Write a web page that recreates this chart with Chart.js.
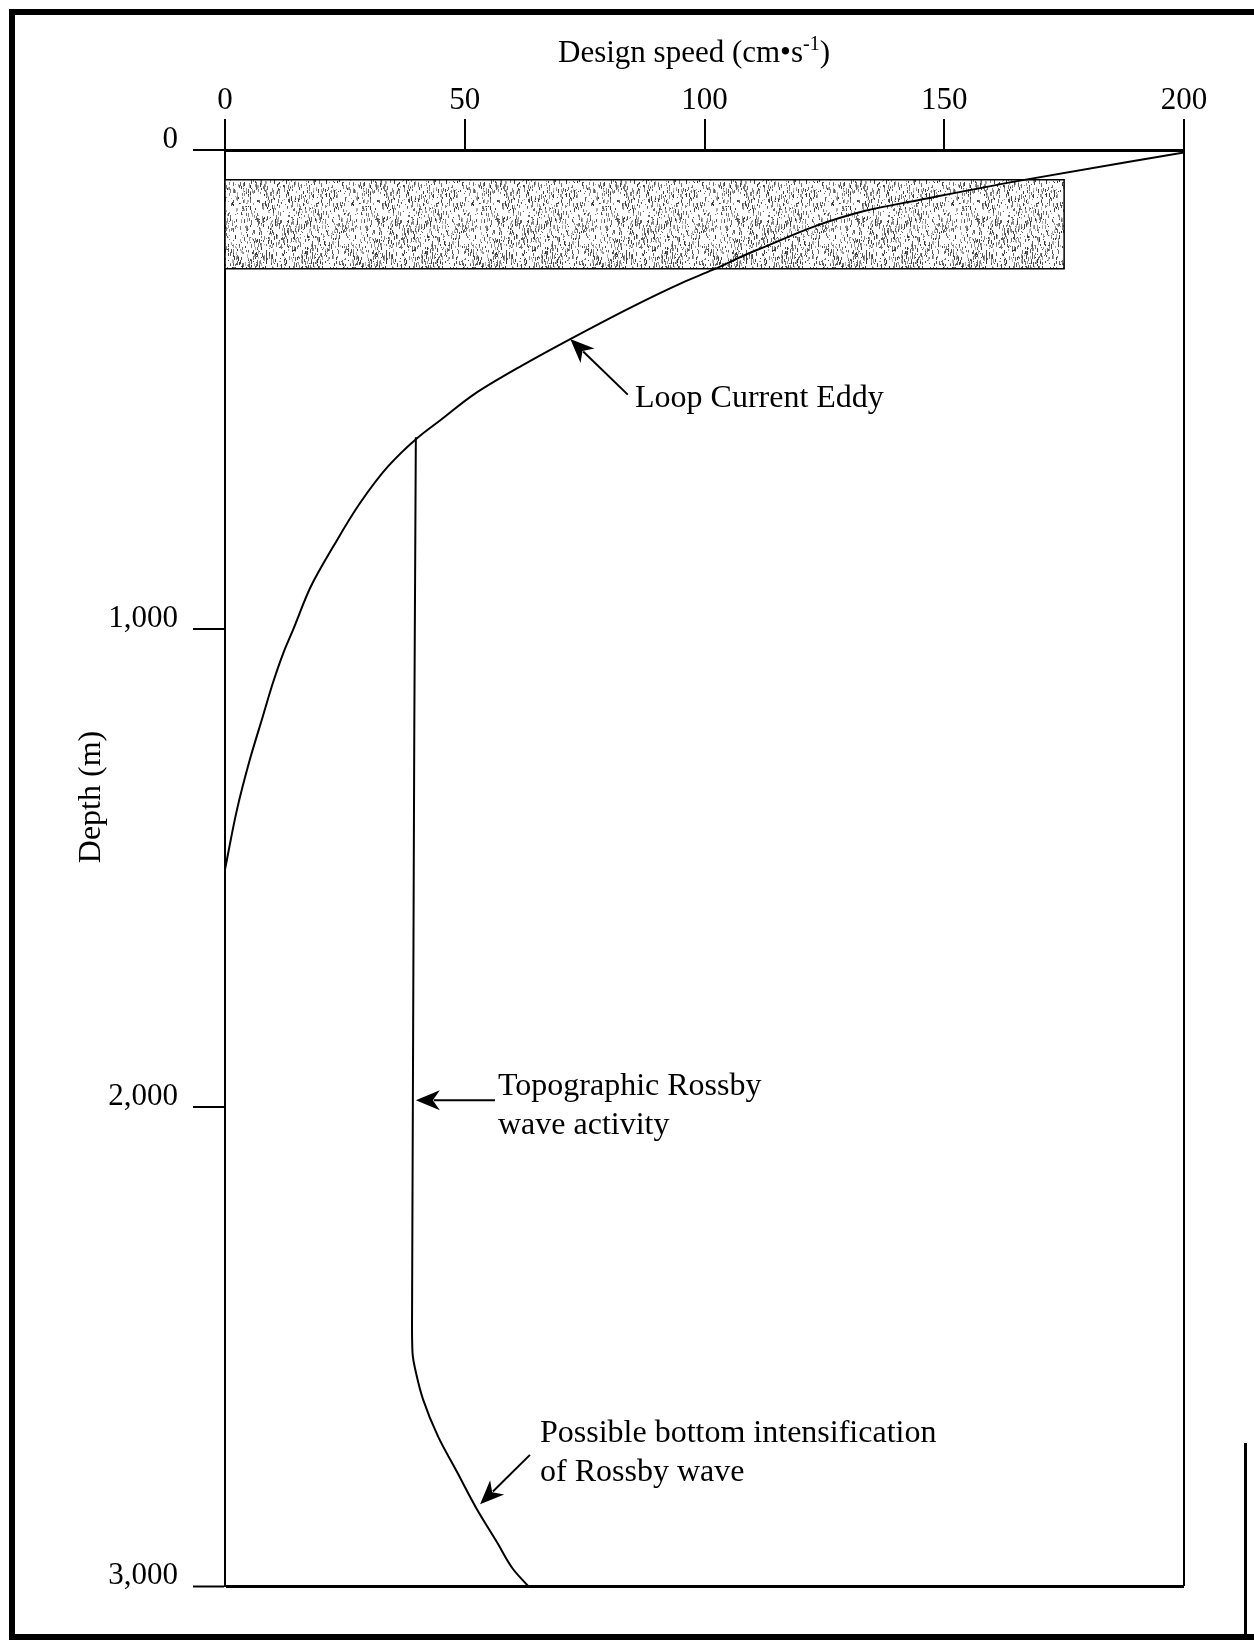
<!DOCTYPE html>
<html><head><meta charset="utf-8">
<script src="https://cdn.jsdelivr.net/npm/chart.js@4/dist/chart.umd.min.js"></script>
<style>html,body{margin:0;padding:0;background:#fff;} canvas{display:block;}</style>
</head><body>
<canvas id="c" width="1254" height="1640"></canvas>
<script>
// ---- data ----
const speedTicks = [0, 50, 100, 150, 200];
const depthTicks = [0, 1000, 2000, 3000];

const eddySpeed = [200, 165.2, 145, 133.5, 110.9, 101.8, 95.2, 85, 72, 62, 52, 45.5, 40.3, 34.0, 28.2, 22.6, 17.9, 14.3, 12.2, 10, 7.9, 5.2, 2.5, 0];
const eddyDepth = [5, 65, 104, 127, 209, 250, 278, 327, 395, 450, 510, 560, 600, 661, 737, 828, 912, 1000, 1050, 1113, 1183, 1273, 1378, 1503];

const rossbySpeed = [39.8, 39.0, 39.1, 40, 41.3, 44.4, 48.4, 52.5, 56.7, 60.1, 63.2];
const rossbyDepth = [600, 2450, 2512, 2562, 2610, 2687, 2762, 2839, 2908, 2965, 3000];

const layerSpeed = [0, 175, 175, 0, 0];
const layerDepth = [62, 62, 248, 248, 62];

const xTitle = 'Design speed (cm\u2022s';
const xTitleSup = '-1';
const yTitle = 'Depth (m)';
const notes = [
  {lines: ['Loop Current Eddy'], tip: [72, 395], tail: [84, 511]},
  {lines: ['Topographic Rossby', 'wave activity'], tip: [39.8, 1985], tail: [56.3, 1985]},
  {lines: ['Possible bottom intensification', 'of Rossby wave'], tip: [53.2, 2829], tail: [63.6, 2726]}
];

// ---- helpers ----
const pts = (xs, ys) => xs.map((x, i) => ({x: x, y: ys[i]}));
const SERIF = '"Liberation Serif", "Times New Roman", serif';

const canvas = document.getElementById('c');
const ctx0 = canvas.getContext('2d');

function makeStipple() {
  const c = document.createElement('canvas');
  c.width = 120; c.height = 90;
  const g = c.getContext('2d');
  g.fillStyle = '#fff'; g.fillRect(0, 0, c.width, c.height);
  let s = 987654321;
  const rnd = () => { s = (Math.imul(s, 1103515245) + 12345) >>> 0; return s / 4294967296; };
  for (let i = 0; i < 1250; i++) {
    const x = Math.floor(rnd() * c.width), y = Math.floor(rnd() * c.height);
    const h = 1 + Math.floor(rnd() * 4);
    const shade = Math.floor(50 + rnd() * 130);
    g.fillStyle = 'rgb(' + shade + ',' + shade + ',' + shade + ')';
    g.fillRect(x, y, 1, h);
  }
  return ctx0.createPattern(c, 'repeat');
}

function arrow(ctx, x1, y1, x2, y2) {
  const ang = Math.atan2(y2 - y1, x2 - x1);
  const L = 24, W = 10;
  const bx = x2 - L * Math.cos(ang), by = y2 - L * Math.sin(ang);
  ctx.beginPath();
  ctx.moveTo(x1, y1);
  ctx.lineTo(x2 - (L - 6) * Math.cos(ang), y2 - (L - 6) * Math.sin(ang));
  ctx.lineWidth = 2; ctx.strokeStyle = '#000'; ctx.stroke();
  ctx.beginPath();
  ctx.moveTo(x2, y2);
  ctx.lineTo(bx + W * Math.sin(ang), by - W * Math.cos(ang));
  ctx.lineTo(x2 - (L - 7) * Math.cos(ang), y2 - (L - 7) * Math.sin(ang));
  ctx.lineTo(bx - W * Math.sin(ang), by + W * Math.cos(ang));
  ctx.closePath();
  ctx.fillStyle = '#000'; ctx.fill();
}

const decor = {
  id: 'decor',
  afterDraw(chart) {
    const ctx = chart.ctx;
    const xs = chart.scales.x, ys = chart.scales.y;
    ctx.save();
    ctx.fillStyle = '#000';
    ctx.strokeStyle = '#000';
    // x axis title with superscript
    ctx.font = '31px ' + SERIF;
    ctx.textBaseline = 'alphabetic';
    const w1 = ctx.measureText(xTitle).width;
    ctx.font = '20px ' + SERIF;
    const w2 = ctx.measureText(xTitleSup).width;
    ctx.font = '31px ' + SERIF;
    const w3 = ctx.measureText(')').width;
    let tx = 694 - (w1 + w2 + w3) / 2;
    const tb = 62;
    ctx.textAlign = 'left';
    ctx.fillText(xTitle, tx, tb);
    ctx.font = '20px ' + SERIF;
    ctx.fillText(xTitleSup, tx + w1, tb - 12);
    ctx.font = '31px ' + SERIF;
    ctx.fillText(')', tx + w1 + w2, tb);
    // y axis title
    ctx.save();
    ctx.translate(92, 797);
    ctx.rotate(-Math.PI / 2);
    ctx.textAlign = 'center';
    ctx.textBaseline = 'middle';
    ctx.font = '32px ' + SERIF;
    ctx.fillText(yTitle, 0, 0);
    ctx.restore();
    // annotations
    ctx.font = '32px ' + SERIF;
    ctx.textAlign = 'left';
    ctx.textBaseline = 'alphabetic';
    const textPos = [[635, 407], [498, 1095], [540, 1442]];
    notes.forEach((n, i) => {
      const [px, py] = textPos[i];
      n.lines.forEach((l, j) => ctx.fillText(l, px, py + j * 39));
      arrow(ctx, xs.getPixelForValue(n.tail[0]), ys.getPixelForValue(n.tail[1]),
                 xs.getPixelForValue(n.tip[0]), ys.getPixelForValue(n.tip[1]));
    });
    // outer frame
    ctx.fillRect(9, 9, 1245, 6);
    ctx.fillRect(9, 9, 6, 1631);
    ctx.fillRect(9, 1634, 1245, 6);
    ctx.fillRect(1244, 1443, 3, 194);
    ctx.restore();
  }
};

const stipple = makeStipple();

new Chart(canvas, {
  type: 'scatter',
  data: {
    datasets: [
      {label: 'Loop Current Eddy', data: pts(eddySpeed, eddyDepth), showLine: true, borderColor: '#000', borderWidth: 2, pointRadius: 0, cubicInterpolationMode: 'monotone', fill: false},
      {label: 'Topographic Rossby wave', data: pts(rossbySpeed, rossbyDepth), showLine: true, borderColor: '#000', borderWidth: 2, pointRadius: 0, cubicInterpolationMode: 'monotone', fill: false},
      {label: 'Layer', data: pts(layerSpeed, layerDepth), showLine: true, borderColor: '#000', borderWidth: 1.5, pointRadius: 0, tension: 0, fill: 'shape', backgroundColor: stipple}
    ]
  },
  options: {
    indexAxis: 'y',
    responsive: false,
    animation: false,
    devicePixelRatio: 1,
    layout: {padding: {left: 0, top: 0, right: 70, bottom: 54}},
    plugins: {legend: {display: false}, tooltip: {enabled: false}},
    scales: {
      x: {
        type: 'linear', position: 'top', min: 0, max: 200,
        afterBuildTicks: s => { s.ticks = speedTicks.map(v => ({value: v})); },
        afterFit: s => { s.height = 150; },
        ticks: {padding: 0, color: '#000', font: {family: SERIF, size: 31, lineHeight: 1.2}, maxRotation: 0},
        grid: {
          drawOnChartArea: true, drawTicks: true, tickLength: 31, tickColor: '#000', tickWidth: 2,
          color: c => (c.tick && c.tick.value === 200) ? '#000' : 'rgba(0,0,0,0)',
          lineWidth: 2
        },
        border: {display: true, color: '#000', width: 3}
      },
      y: {
        type: 'linear', position: 'left', min: 0, max: 3000, reverse: true,
        afterBuildTicks: s => { s.ticks = depthTicks.map(v => ({value: v})); },
        afterFit: s => { s.width = 225; },
        ticks: {padding: 15, labelOffset: -10, color: '#000', font: {family: SERIF, size: 31, lineHeight: 1.2},
                callback: v => v.toLocaleString('en-US')},
        grid: {
          drawOnChartArea: true, drawTicks: true, tickLength: 32, tickColor: '#000', tickWidth: 2,
          color: c => (c.tick && c.tick.value === 3000) ? '#000' : 'rgba(0,0,0,0)',
          lineWidth: c => (c.tick && c.tick.value === 3000) ? 3 : 2
        },
        border: {display: true, color: '#000', width: 2}
      }
    }
  },
  plugins: [decor]
});
</script>
</body></html>
